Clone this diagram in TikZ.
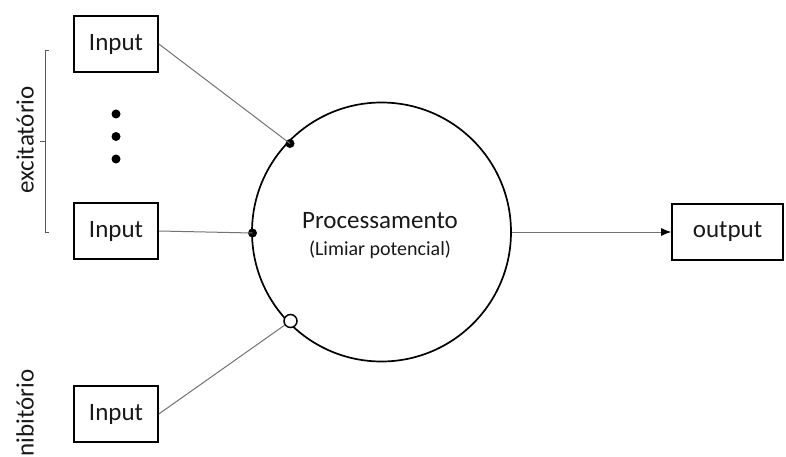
\documentclass[tikz,border=0pt]{standalone}
\usepackage{fontspec}
\setmainfont{Carlito}
\usetikzlibrary{arrows.meta}
\begin{document}
\begin{tikzpicture}[x=1pt,y=-1pt,
  box/.style={draw=black,line width=1.6pt,minimum width=84pt,minimum height=56pt,inner sep=0pt,
    font=\fontsize{25}{30}\selectfont,text=black!90},
  wire/.style={draw=black!55,line width=1pt},
  side/.style={rotate=90,font=\fontsize{25}{30}\selectfont,text=black!90,inner sep=0pt},
  pin/.style={circle,fill=black,inner sep=0pt,minimum size=9pt},
  openpin/.style={circle,draw=black,fill=white,line width=1.5pt,inner sep=0pt,minimum size=13pt}]
\useasboundingbox (0,0) rectangle (786,457);

% input boxes
\node[box] (in1) at (116,44) {Input};
\node[box] (in2) at (116,231) {Input};
\node[box] (in3) at (116,414) {Input};
\node[box,minimum width=111pt] (out) at (727.5,232) {output};

% soma
\node[circle,draw=black,line width=1.7pt,minimum size=259pt,inner sep=0pt] (soma) at (381.5,232) {};
\node[font=\fontsize{25}{30}\selectfont,text=black!90] (proc) at (380,221) {Processamento};
\node[font=\fontsize{20}{24}\selectfont,text=black!90] (lim) at (380,250) {(Limiar potencial)};

% synapse points on the membrane
\node[pin] (s1) at (290,143.5) {};
\node[pin] (s2) at (252.5,233) {};
\node[openpin] (s3) at (290.5,321) {};

% connections
\draw[wire] (in1.east) -- (s1.center);
\draw[wire] (in2.east) -- (s2.center);
\draw[wire] (in3.east) -- (s3);
\draw[wire,-{Latex[length=10pt,width=8pt,color=black]}] (soma.east) -- (out.west);

% ellipsis dots
\node[pin] (d1) at (116,114) {};
\node[pin] (d2) at (116,136.5) {};
\node[pin] (d3) at (116,159) {};

% bracket grouping the excitatory inputs
\coordinate (bt) at (45,50);
\coordinate (bb) at (45,232);
\coordinate (bm) at (45,141);
\draw[black!65,line width=0.9pt] ([xshift=4pt]bt) -- (bt) -- (bb) -- ([xshift=4pt]bb);
\draw[black!65,line width=0.9pt] (bm) -- ([xshift=-5pt]bm);

% group labels
\node[side] (exc) at (25,140) {excitatório};
\node[side] (inb) at (25,413) {nibitório};
\end{tikzpicture}
\end{document}
